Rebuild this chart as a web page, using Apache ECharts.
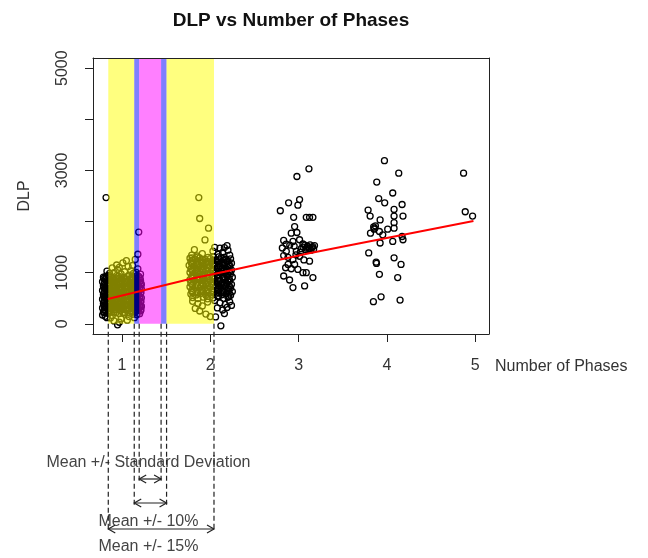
<!DOCTYPE html>
<html><head><meta charset="utf-8">
<script src="https://cdn.jsdelivr.net/npm/echarts@6/dist/echarts.min.js"></script>
<style>html,body{margin:0;padding:0;background:#fff}#c{width:648px;height:558px}</style>
</head><body><div id="c"></div>
<script>
// ---------- data ----------
const chartTitle = 'DLP vs Number of Phases';
const xAxisName = 'Number of Phases';
const yAxisName = 'DLP';
const phaseTicks = [1, 2, 3, 4, 5];
const dlpTicks = [0, 1000, 2000, 3000, 4000, 5000];
const dlpTickLabels = [0, 1000, 3000, 5000];

const phase1Points = [
[0.79,912],[0.85,948],[0.90,896],[0.96,931],[1.02,905],[1.08,952],[1.13,889],[1.19,925],
[0.81,872],[0.87,858],[0.93,884],[0.99,851],[1.05,877],[1.11,862],[1.16,890],[1.21,848],
[0.78,823],[0.84,806],[0.91,838],[0.97,812],[1.03,829],[1.09,801],[1.14,836],[1.20,815],
[0.80,781],[0.86,764],[0.92,792],[0.98,770],[1.04,787],[1.10,758],[1.15,779],[1.22,766],
[0.79,738],[0.85,721],[0.91,746],[0.97,715],[1.03,733],[1.09,724],[1.14,741],[1.20,719],
[0.81,694],[0.87,676],[0.93,702],[0.99,681],[1.05,697],[1.11,669],[1.17,690],[1.22,678],
[0.78,652],[0.84,633],[0.90,659],[0.96,628],[1.02,646],[1.08,637],[1.13,655],[1.19,624],
[0.80,607],[0.86,589],[0.92,614],[0.98,595],[1.04,610],[1.10,583],[1.16,603],[1.21,592],
[0.79,566],[0.85,548],[0.91,572],[0.97,541],[1.03,559],[1.09,550],[1.15,569],[1.20,537],
[0.81,523],[0.87,505],[0.93,529],[0.99,511],[1.05,526],[1.11,498],[1.17,517],[1.22,508],
[0.78,481],[0.84,462],[0.90,488],[0.96,457],[1.02,475],[1.08,466],[1.14,484],[1.19,453],
[0.80,437],[0.86,419],[0.92,444],[0.98,425],[1.04,440],[1.10,413],[1.16,432],[1.21,421],
[0.79,396],[0.85,378],[0.91,402],[0.97,371],[1.03,389],[1.09,380],[1.15,399],[1.20,367],
[0.81,353],[0.87,335],[0.93,359],[0.99,341],[1.05,356],[1.11,328],[1.17,347],[1.22,338],
[0.78,311],[0.84,292],[0.90,318],[0.96,287],[1.02,305],[1.08,296],[1.14,314],[1.19,283],
[0.80,268],[0.86,250],[0.92,274],[0.98,255],[1.04,270],[1.10,243],[1.16,262],[1.21,251],
[0.79,226],[0.85,208],[0.91,232],[0.97,201],[1.03,219],[1.09,210],[1.15,228],[1.20,197],
[0.82,930],[0.88,915],[0.94,944],[1.00,878],[1.06,921],[1.12,906],[1.17,940],
[0.82,845],[0.88,830],[0.94,812],[1.00,836],[1.06,809],[1.12,844],[1.18,797],
[0.83,752],[0.89,737],[0.95,760],[1.01,749],[1.07,716],[1.12,742],[1.18,734],
[0.82,663],[0.88,648],[0.94,670],[1.00,657],[1.06,629],[1.12,651],[1.18,645],
[0.83,577],[0.89,560],[0.95,583],[1.01,571],[1.07,544],[1.12,566],[1.18,556],
[0.82,493],[0.88,477],[0.94,500],[1.00,487],[1.06,459],[1.12,481],[1.18,474],
[0.83,408],[0.89,391],[0.95,414],[1.01,402],[1.07,372],[1.12,395],[1.18,388],
[0.82,322],[0.88,307],[0.94,329],[1.00,316],[1.06,288],[1.12,310],[1.18,303],
[0.795,888],[0.855,905],[0.915,870],[0.975,899],[1.035,858],[1.095,883],[1.155,860],[1.205,892],
[0.805,802],[0.865,787],[0.925,815],[0.985,790],[1.045,810],[1.105,778],[1.165,808],[1.215,790],
[0.795,708],[0.855,694],[0.915,722],[0.975,699],[1.035,715],[1.095,688],[1.155,718],[1.205,702],
[0.805,620],[0.865,606],[0.925,630],[0.985,612],[1.045,625],[1.105,600],[1.165,628],[1.215,611],
[0.795,530],[0.855,516],[0.915,540],[0.975,522],[1.035,537],[1.095,512],[1.155,540],[1.205,520],
[0.805,446],[0.865,432],[0.925,455],[0.985,439],[1.045,452],[1.105,428],[1.165,455],[1.215,437],
[0.795,360],[0.865,346],[0.925,370],[0.985,352],[1.045,366],[1.105,342],[1.165,368],[1.215,350],
[0.805,280],[0.865,266],[0.925,290],[0.985,272],[1.045,285],[1.105,262],[1.165,286],[1.215,270],
[0.86,985],[0.91,1002],[0.95,1060],[0.99,975],[1.03,1018],[1.07,1120],[0.89,1095],[0.94,1150],
[1.01,1190],[1.10,1040],[1.13,985],[1.16,1005],[1.18,1075],[0.83,1030],[1.21,970],[1.12,1140],
[0.97,1105],[1.05,1235],[1.15,1260],[1.18,1360],[1.19,1795],[0.82,2470],
[0.84,205],[0.89,160],[0.93,215],[0.95,-20],[0.99,95],[1.03,190],[0.91,55],[1.08,140],
[1.12,185],[0.87,115],[0.97,30],[1.17,175],[1.06,70],[1.01,220],[1.14,120],[0.80,230],
[0.78,170],[0.81,145],[0.83,120]
];

const phase2Points = [
[1.77,1282],[1.83,1265],[1.88,1290],[1.94,1258],[2.00,1276],[2.06,1249],[2.12,1288],[2.17,1261],[2.23,1270],
[1.78,1212],[1.84,1195],[1.90,1224],[1.95,1188],[2.01,1207],[2.07,1230],[2.13,1199],[2.19,1218],[2.24,1186],
[1.76,1143],[1.82,1126],[1.87,1152],[1.93,1118],[1.99,1137],[2.05,1160],[2.11,1129],[2.16,1148],[2.22,1121],
[1.78,1072],[1.84,1055],[1.89,1081],[1.95,1048],[2.01,1066],[2.07,1089],[2.13,1058],[2.18,1077],[2.24,1050],
[1.77,1003],[1.83,986],[1.88,1012],[1.94,978],[2.00,997],[2.06,1020],[2.12,989],[2.17,1008],[2.23,981],
[1.79,932],[1.85,915],[1.91,941],[1.96,908],[2.02,926],[2.08,949],[2.14,918],[2.19,937],[2.25,910],
[1.77,862],[1.82,845],[1.88,871],[1.94,838],[2.00,856],[2.05,879],[2.11,848],[2.17,867],[2.22,840],
[1.78,793],[1.84,776],[1.90,802],[1.95,769],[2.01,787],[2.07,810],[2.13,779],[2.18,798],[2.24,771],
[1.77,723],[1.83,706],[1.89,732],[1.94,699],[2.00,717],[2.06,740],[2.12,709],[2.17,728],[2.23,701],
[1.79,652],[1.85,635],[1.90,661],[1.96,628],[2.02,646],[2.08,669],[2.14,638],[2.19,657],[2.25,630],
[1.78,582],[1.84,565],[1.89,591],[1.95,558],[2.01,576],[2.07,599],[2.13,568],[2.18,587],[2.23,560],
[1.80,512],[1.86,495],[1.92,521],[1.97,488],[2.03,506],[2.09,529],[2.15,498],[2.20,517],
[1.80,1240],[1.86,1228],[1.91,1252],[1.97,1221],[2.03,1239],[2.09,1212],[2.15,1247],[2.20,1230],
[1.79,1170],[1.85,1160],[1.91,1180],[1.97,1095],[2.03,1172],[2.09,1103],[2.14,1164],[2.20,1100],
[1.80,1030],[1.86,1018],[1.91,1040],[1.97,955],[2.03,1033],[2.09,963],[2.15,1025],[2.20,960],
[1.80,890],[1.86,880],[1.92,900],[1.97,815],[2.03,893],[2.09,823],[2.15,885],[2.20,820],
[1.80,750],[1.86,740],[1.92,760],[1.97,675],[2.03,753],[2.09,683],[2.15,745],[2.21,680],
[1.80,610],[1.86,600],[1.92,620],[1.97,535],[2.03,613],[2.09,543],[2.15,605],[2.21,540],
[1.795,1190],[1.855,1175],[1.915,1200],[1.975,1165],[2.035,1185],[2.095,1170],[2.155,1195],[2.215,1160],
[1.795,1050],[1.855,1035],[1.915,1060],[1.975,1025],[2.035,1045],[2.095,1030],[2.155,1055],[2.215,1020],
[1.795,910],[1.855,895],[1.915,920],[1.975,885],[2.035,905],[2.095,890],[2.155,915],[2.215,880],
[1.795,770],[1.855,755],[1.915,780],[1.975,745],[2.035,765],[2.095,750],[2.155,775],[2.215,740],
[1.795,630],[1.855,615],[1.915,640],[1.975,605],[2.035,625],[2.095,610],[2.155,635],[2.215,600],
[1.795,1290],[1.855,1305],[1.975,1300],[2.095,1310],[2.155,1300],[2.035,1315],
[1.79,1345],[1.85,1330],[1.91,1372],[2.09,1360],[2.14,1395],[2.22,1345],[1.82,1450],[2.03,1420],
[2.20,1440],[2.05,1495],[2.16,1490],[2.11,1480],[1.94,1640],[1.98,1870],[1.88,2060],[1.87,2470],[2.19,1530],
[1.80,440],[1.86,395],[1.91,350],[1.83,300],[1.88,250],[1.95,190],[2.00,140],[1.97,425],
[2.05,455],[2.11,410],[2.17,380],[2.22,430],[2.08,310],[2.14,270],[2.19,320],[2.16,200],
[2.06,135],[2.12,-40],[2.24,360]
];

const phase3Points = [
[3.117,3031],[2.981,2882],[3.011,2431],[2.887,2366],[2.992,2321],[2.793,2211],[2.944,2083],
[3.087,2083],[3.124,2083],[3.162,2083],[2.955,1902],[2.917,1773],[2.981,1786],[2.831,1631],
[2.936,1611],[3.011,1644],[3.049,1561],
[3.07,1540],[3.10,1520],[3.13,1545],[3.16,1510],[3.09,1480],[3.12,1470],[3.15,1490],[3.05,1500],
[3.18,1530],[3.08,1450],[3.14,1440],[3.03,1470],[3.11,1500],[3.17,1460],
[2.816,1483],[2.861,1418],[2.831,1335],[2.974,1418],[3.011,1321],[2.936,1257],[2.881,1161],
[2.955,1161],[3.124,1225],[2.853,1096],[2.917,1077],[2.992,1064],[3.049,1000],[3.087,1000],
[3.162,903],[2.831,935],[2.898,857],[2.936,709],[3.068,741],
[2.90,1540],[2.95,1520],[2.86,1560],[3.02,1400],[2.97,1350],[2.88,1300],[3.06,1250]
];

const phase4Points = [
[3.972,3191],[4.134,2946],[3.885,2772],[4.066,2559],[3.907,2450],[3.975,2366],[4.172,2334],
[3.787,2224],[3.810,2108],[4.081,2237],[4.182,2108],[4.081,2108],[3.923,2031],[4.081,1979],
[3.850,1895],[3.860,1870],[3.855,1850],[3.870,1915],[4.009,1851],[4.081,1870],[3.814,1773],
[3.915,1805],[3.953,1741],[4.172,1708],[3.923,1580],[4.066,1611],[4.182,1644],[3.794,1387],
[3.878,1205],[3.882,1180],[4.081,1290],[4.160,1161],[3.915,967],[4.122,903],[3.847,432],
[3.934,528],[4.149,464]
];

const phase5Points = [[4.868,2946],[4.887,2192],[4.970,2108]];

// fitted trend line
const trendX = [0.84, 1.77, 2.16, 3.12, 3.58, 4.98];
const trendY = [486, 875, 1017, 1381, 1537, 2010];

// shaded band edges (in "Number of Phases" units)
const bandEdges = [0.845, 1.139, 1.195, 1.443, 1.505, 2.042];

// annotation ranges and texts
const sdRange = [1.195, 1.443];
const tenPctRange = [1.139, 1.505];
const fifteenPctRange = [0.845, 2.042];
const annotationTexts = ['Mean +/- Standard Deviation', 'Mean +/- 10%', 'Mean +/- 15%'];

// ---------- layout / style ----------
const FONT = 'Liberation Sans, Arial, sans-serif';
const X_MIN = 0.672, X_MAX = 5.156;
const Y_MIN = -200, Y_MAX = 5200;
const annotLabelX = 1.30;
const annotLineEndPx = [483, 505, 530];
const annotArrowPx = [479, 503, 529];
const annotTextPx = [463, 522, 547];
const TXT = '#333';

const bandSegments = [
  [bandEdges[0], bandEdges[1], 'rgba(255,255,0,0.5)'],
  [bandEdges[1], bandEdges[2], 'rgba(0,0,255,0.5)'],
  [bandEdges[2], bandEdges[3], 'rgba(255,0,255,0.5)'],
  [bandEdges[3], bandEdges[4], 'rgba(0,0,255,0.5)'],
  [bandEdges[4], bandEdges[5], 'rgba(255,255,0,0.5)']
];

const allPoints = [].concat(phase1Points, phase2Points, phase3Points, phase4Points, phase5Points);
const trendData = trendX.map((x, i) => [x, trendY[i]]);
const annotData = [sdRange, tenPctRange, fifteenPctRange];

const chart = echarts.init(document.getElementById('c'), null, {renderer: 'canvas'});

const option = {
  animation: false,
  backgroundColor: '#fff',
  textStyle: {fontFamily: FONT},
  grid: {left: 93, top: 58, right: 159, bottom: 224, containLabel: false},
  graphic: [{
    type: 'text', x: 291, y: 21, z: 100,
    style: {text: chartTitle, align: 'center', verticalAlign: 'middle',
            fontSize: 19, fontWeight: 'bold', fontFamily: FONT, fill: '#111'}
  }],
  xAxis: [{
    type: 'value', min: X_MIN, max: X_MAX, position: 'bottom', z: 10,
    name: xAxisName, nameLocation: 'end', nameGap: 6,
    nameTextStyle: {fontSize: 16, color: TXT, align: 'left', verticalAlign: 'top', padding: [25, 0, 0, 0], fontFamily: FONT},
    axisLine: {show: true, onZero: false, lineStyle: {color: '#222', width: 1}},
    axisTick: {show: true, length: 8, customValues: phaseTicks, lineStyle: {color: '#222'}},
    axisLabel: {show: true, customValues: phaseTicks, fontSize: 16, color: TXT, margin: 24, fontFamily: FONT,
                formatter: v => String(v)},
    splitLine: {show: false}
  }, {
    type: 'value', min: X_MIN, max: X_MAX, position: 'top', z: 10,
    axisLine: {show: true, onZero: false, lineStyle: {color: '#222', width: 1}},
    axisTick: {show: false}, axisLabel: {show: false}, splitLine: {show: false}
  }],
  yAxis: [{
    type: 'value', min: Y_MIN, max: Y_MAX, position: 'left', z: 10,
    name: yAxisName, nameLocation: 'middle', nameGap: 60, nameRotate: 90,
    nameTextStyle: {fontSize: 16, color: TXT, fontFamily: FONT},
    axisLine: {show: true, onZero: false, lineStyle: {color: '#222', width: 1}},
    axisTick: {show: true, length: 8, customValues: dlpTicks, lineStyle: {color: '#222'}},
    axisLabel: {show: true, customValues: dlpTickLabels, rotate: 90, fontSize: 16, color: TXT, margin: 22, fontFamily: FONT,
                formatter: v => String(v)},
    splitLine: {show: false}
  }, {
    type: 'value', min: Y_MIN, max: Y_MAX, position: 'right', z: 10,
    axisLine: {show: true, onZero: false, lineStyle: {color: '#222', width: 1}},
    axisTick: {show: false}, axisLabel: {show: false}, splitLine: {show: false}
  }],
  series: [
    {
      type: 'scatter', data: allPoints, z: 2, silent: true,
      symbol: 'circle', symbolSize: 6,
      itemStyle: {color: 'rgba(0,0,0,0)', borderColor: '#000', borderWidth: 1.3, opacity: 1}
    },
    {
      type: 'custom', z: 3, silent: true,
      data: bandSegments.map(s => [s[0], s[1]]),
      encode: {x: [0, 1]},
      renderItem: function (params, api) {
        const p0 = api.coord([api.value(0), 0]);
        const p1 = api.coord([api.value(1), Y_MAX]);
        return {
          type: 'rect',
          shape: {x: p0[0], y: p1[1], width: p1[0] - p0[0], height: p0[1] - p1[1]},
          style: {fill: bandSegments[params.dataIndex][2]}
        };
      }
    },
    {
      type: 'line', data: trendData, z: 4, silent: true,
      showSymbol: false, symbol: 'none',
      lineStyle: {color: '#ff0000', width: 2}
    },
    {
      type: 'custom', z: 5, silent: true, clip: false,
      data: annotData,
      encode: {x: [0, 1]},
      renderItem: function (params, api) {
        const i = params.dataIndex;
        const a = api.coord([api.value(0), 0]);
        const b = api.coord([api.value(1), 0]);
        const y0 = a[1];
        const yEnd = annotLineEndPx[i];
        const yA = annotArrowPx[i];
        const tx = api.coord([annotLabelX, 0])[0];
        const dash = {stroke: '#222', lineWidth: 1.2, lineDash: [5, 3]};
        const solid = {stroke: '#222', lineWidth: 1.2, fill: null};
        const hx = 7, hy = 4;
        return {
          type: 'group',
          children: [
            {type: 'line', shape: {x1: a[0], y1: y0, x2: a[0], y2: yEnd}, style: dash},
            {type: 'line', shape: {x1: b[0], y1: y0, x2: b[0], y2: yEnd}, style: dash},
            {type: 'line', shape: {x1: a[0], y1: yA, x2: b[0], y2: yA}, style: solid},
            {type: 'polyline', shape: {points: [[a[0] + hx, yA - hy], [a[0], yA], [a[0] + hx, yA + hy]]}, style: solid},
            {type: 'polyline', shape: {points: [[b[0] - hx, yA - hy], [b[0], yA], [b[0] - hx, yA + hy]]}, style: solid},
            {type: 'text', x: tx, y: annotTextPx[i],
             style: {text: annotationTexts[i], align: 'center', verticalAlign: 'middle',
                     fontSize: 16, fontFamily: FONT, fill: '#444'}}
          ]
        };
      }
    }
  ]
};
chart.setOption(option);
</script>
</body></html>
